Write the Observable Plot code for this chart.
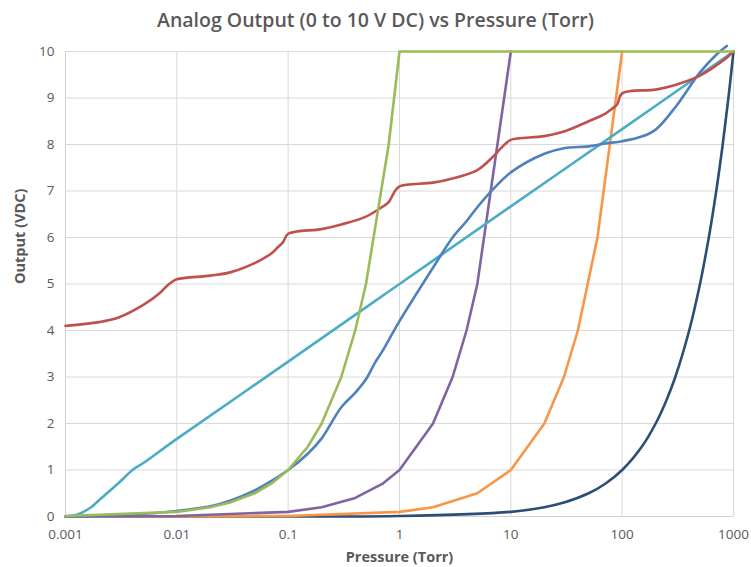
<!DOCTYPE html>
<html>
<head>
<meta charset="utf-8">
<script src="https://cdn.jsdelivr.net/npm/d3@7"></script>
<script src="https://cdn.jsdelivr.net/npm/@observablehq/plot@0.6"></script>
<style>
  html, body { margin: 0; padding: 0; background: #fff; }
  #title { height: 40px; line-height: 40px; text-align: center; font-family: "Open Sans", sans-serif; font-weight: 600; font-size: 19.5px; color: #595959; }
  svg { display: block; }
</style>
</head>
<body>
<div id="title">Analog Output (0 to 10 V DC) vs Pressure (Torr)</div>
<div id="chart"></div>
<script>
// ---- data ----
const xTicks = [0.001, 0.01, 0.1, 1, 10, 100, 1000];
const yTicks = [0, 1, 2, 3, 4, 5, 6, 7, 8, 9, 10];

const redP = [0.001,0.002,0.003,0.005,0.007,0.008,0.009,0.01,0.02,0.03,0.05,0.07,0.08,0.09,0.1,0.2,0.3,0.5,0.7,0.8,0.9,1,2,3,5,7,8,9,10,20,30,50,70,80,90,100,200,300,500,700,800,900,1000];
const redV = [4.1,4.18,4.28,4.55,4.8,4.94,5.04,5.1,5.18,5.25,5.45,5.65,5.78,5.9,6.08,6.18,6.28,6.45,6.66,6.76,6.98,7.1,7.18,7.27,7.45,7.75,7.9,8.02,8.1,8.18,8.28,8.5,8.66,8.76,8.86,9.1,9.18,9.28,9.48,9.7,9.8,9.9,10];

const cyanP = [0.001,0.0013,0.0017,0.002,0.003,0.004,0.005,0.01,0.1,1,10,100,1000];
const cyanV = [0,0.05,0.2,0.35,0.72,1.0,1.15,1.67,3.33,5.0,6.67,8.33,10];

const blueP = [0.001,0.002,0.005,0.01,0.02,0.03,0.05,0.07,0.1,0.15,0.2,0.3,0.4,0.5,0.6,0.7,1,2,3,4,5,7,10,20,30,50,70,100,150,200,300,500,700,870];
const blueV = [0,0.02,0.06,0.12,0.22,0.34,0.56,0.76,1.0,1.35,1.68,2.35,2.66,2.95,3.3,3.55,4.2,5.35,6.0,6.35,6.65,7.05,7.4,7.8,7.92,7.96,8.02,8.07,8.17,8.32,8.8,9.55,9.93,10.12];

const greenP = [0.001,0.01,0.02,0.03,0.05,0.07,0.1,0.15,0.2,0.3,0.4,0.5,0.8,1,10,100,1000];
const greenV = [0.01,0.1,0.2,0.3,0.5,0.7,1,1.5,2,3,4,5,8,10,10,10,10];

const purpleP = [0.001,0.01,0.1,0.2,0.4,0.7,1,2,3,4,5,10];
const purpleV = [0.001,0.01,0.1,0.2,0.4,0.7,1,2,3,4,5,10];

const orangeP = [0.001,0.01,0.1,1,2,5,10,20,30,40,60,100];
const orangeV = [0.0001,0.001,0.01,0.1,0.2,0.5,1,2,3,4,6,10];

const navyP = [0.001,0.01,0.1,1,10,20,30,50,70,100,150,200,250,300,400,500,600,700,800,900,1000];
const navyV = [0.00001,0.0001,0.001,0.01,0.1,0.2,0.3,0.5,0.7,1,1.5,2,2.5,3,4,5,6,7,8,9,10];

const zip = (P, V) => P.map((p, i) => ({p, v: V[i]}));

const lineOpts = (color, curve) => ({x: "p", y: "v", stroke: color, strokeWidth: 2.6, curve, strokeLinejoin: "round", strokeLinecap: "round"});

const chart = Plot.plot({
  width: 751,
  height: 527,
  marginTop: 11,
  marginBottom: 51,
  marginLeft: 65,
  marginRight: 18,
  style: {fontFamily: "'Open Sans', sans-serif", color: "#595959", background: "#fff"},
  x: {type: "log", domain: [0.001, 1000], ticks: xTicks},
  y: {domain: [0, 10], ticks: yTicks},
  marks: [
    Plot.gridX(xTicks, {stroke: "#d9d9d9", strokeOpacity: 1, strokeWidth: 1}),
    Plot.gridY(yTicks, {stroke: "#d9d9d9", strokeOpacity: 1, strokeWidth: 1}),
    Plot.ruleY([0], {stroke: "#d0d0d0", strokeWidth: 1}),
    Plot.ruleX([0.001], {stroke: "#d0d0d0", strokeWidth: 1}),
    Plot.axisX(xTicks, {tickSize: 0, tickPadding: 13, fontSize: 13.5, fill: "#595959", label: null, tickFormat: d => String(d)}),
    Plot.axisY(yTicks, {tickSize: 0, tickPadding: 11, fontSize: 13.5, fill: "#595959", label: null}),
    Plot.line(zip(navyP, navyV), lineOpts("#2c4d75", "catmull-rom")),
    Plot.line(zip(orangeP, orangeV), lineOpts("#f79646", "linear")),
    Plot.line(zip(purpleP, purpleV), lineOpts("#8064a2", "linear")),
    Plot.line(zip(cyanP, cyanV), lineOpts("#4bacc6", "catmull-rom")),
    Plot.line(zip(blueP, blueV), lineOpts("#4f81bd", "catmull-rom")),
    Plot.line(zip(redP, redV), lineOpts("#c0504d", "catmull-rom")),
    Plot.line(zip(greenP, greenV), lineOpts("#9bbb59", "linear")),
    Plot.text(["Pressure (Torr)"], {frameAnchor: "bottom", dy: 45, fontSize: 14.5, fontWeight: "bold", fill: "#595959"}),
    Plot.text(["Output (VDC)"], {frameAnchor: "left", dx: -45, rotate: -90, fontSize: 14.5, fontWeight: "bold", fill: "#595959"})
  ]
});
document.getElementById("chart").appendChild(chart);
</script>
</body>
</html>
